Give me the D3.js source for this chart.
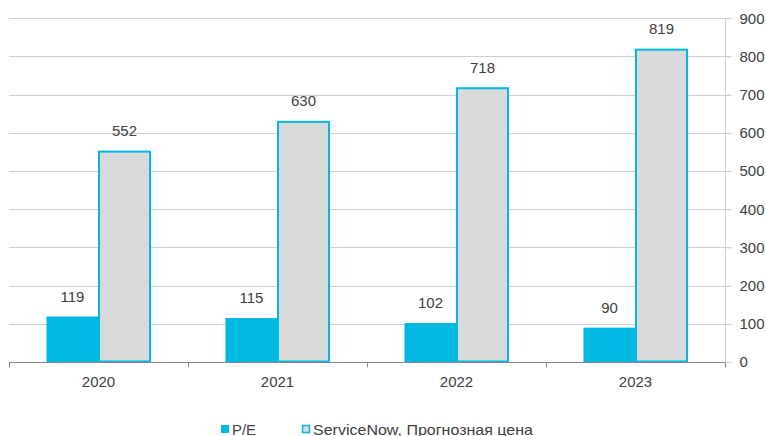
<!DOCTYPE html>
<html>
<head>
<meta charset="utf-8">
<script src="https://cdn.jsdelivr.net/npm/d3@7"></script>
<style>
  html, body { margin: 0; padding: 0; background: #fff; overflow: hidden; }
  text { font-family: "Liberation Sans", Arial, sans-serif; fill: #404040; }
</style>
</head>
<body>
<svg id="chart" width="766" height="436"></svg>
<script>
// Data
const years = ["2020", "2021", "2022", "2023"];
const peValues = [119, 115, 102, 90];
const priceValues = [552, 630, 718, 819];
const yTicks = [0, 100, 200, 300, 400, 500, 600, 700, 800, 900];
const seriesNames = ["P/E", "ServiceNow, Прогнозная цена"];

const svg = d3.select("#chart");
const plotLeft = 9, plotRight = 725, plotTop = 18.2, plotBottom = 362;
const fontStack = "'Liberation Sans', Arial, sans-serif";

const x = d3.scaleBand().domain(years).range([plotLeft, plotRight]).paddingInner(0).paddingOuter(0);
const sub = d3.scaleBand().domain([0, 1]).range([0, x.bandwidth()]).paddingInner(0).paddingOuter(0.72);
const y = d3.scaleLinear().domain([0, 900]).range([plotBottom, plotTop]);

const cyan = "#00b8e1";
const grey = "#d9d9d9";

// Horizontal gridlines
svg.append("g").selectAll("line").data(yTicks.filter(d => d > 0)).join("line")
  .attr("x1", plotLeft).attr("x2", plotRight + 6)
  .attr("y1", d => Math.round(y(d)) + 0.5).attr("y2", d => Math.round(y(d)) + 0.5)
  .attr("stroke", "#d0d0d0").attr("stroke-width", 1);

// Right value axis
const yAxis = d3.axisRight(y).tickValues(yTicks).tickSize(6).tickPadding(8);
const gy = svg.append("g").attr("transform", `translate(${plotRight + 0.5},0)`).call(yAxis);
gy.select(".domain").attr("stroke", "#d0d0d0").attr("d", `M0,${y(900)}V${y(0)}`);
gy.selectAll(".tick line").attr("stroke", "#d0d0d0");
gy.selectAll(".tick text").style("font-size", "15px").attr("fill", "#404040")
  .style("font-family", fontStack);

// P/E bars
svg.append("g").selectAll("rect").data(peValues).join("rect")
  .attr("x", (d, i) => x(years[i]) + sub(0))
  .attr("width", sub.bandwidth())
  .attr("y", d => y(d))
  .attr("height", d => y(0) - y(d))
  .attr("fill", cyan);

// Price bars (outlined)
svg.append("g").selectAll("rect").data(priceValues).join("rect")
  .attr("x", (d, i) => x(years[i]) + sub(1) + 0.5)
  .attr("width", sub.bandwidth() - 1)
  .attr("y", d => y(d) + 0.5)
  .attr("height", d => y(0) - y(d) - 1)
  .attr("fill", grey)
  .attr("stroke", cyan).attr("stroke-width", 2);

// Value labels
const labels = svg.append("g").style("font-size", "15px").attr("text-anchor", "middle");
labels.selectAll("text.pe").data(peValues).join("text").attr("class", "pe")
  .attr("x", (d, i) => x(years[i]) + sub(0) + sub.bandwidth() / 2)
  .attr("y", d => y(d) - 15)
  .text(d => d);
labels.selectAll("text.pr").data(priceValues).join("text").attr("class", "pr")
  .attr("x", (d, i) => x(years[i]) + sub(1) + sub.bandwidth() / 2)
  .attr("y", d => y(d) - 15)
  .text(d => d);

// Category axis
const xAxis = d3.axisBottom(x).tickSize(0).tickPadding(14);
const gx = svg.append("g").attr("transform", `translate(0,${plotBottom + 0.5})`).call(xAxis);
gx.select(".domain").attr("stroke", "#868686").attr("d", `M${plotLeft},0H${plotRight}`);
gx.selectAll(".tick text").style("font-size", "15px").attr("fill", "#404040")
  .style("font-family", fontStack);
// Boundary ticks between categories
gx.append("g").selectAll("line").data(years.concat(["end"])).join("line")
  .attr("x1", (d, i) => Math.round(plotLeft + i * x.bandwidth()) + 0.5)
  .attr("x2", (d, i) => Math.round(plotLeft + i * x.bandwidth()) + 0.5)
  .attr("y1", 0).attr("y2", 5)
  .attr("stroke", "#868686");

// Legend
const legend = svg.append("g").style("font-size", "15px");
const legendX = [221, 302];
const legendTextWidth = [24, 220];
seriesNames.forEach((name, i) => {
  const g = legend.append("g").attr("transform", `translate(${legendX[i]},0)`);
  if (i === 0) {
    g.append("rect").attr("x", 0).attr("y", 425).attr("width", 8).attr("height", 8).attr("fill", cyan);
  } else {
    g.append("rect").attr("x", 0.5).attr("y", 425.5).attr("width", 7).attr("height", 7)
      .attr("fill", grey).attr("stroke", cyan).attr("stroke-width", 1.5);
  }
  g.append("text").attr("x", 11).attr("y", 434.5)
    .attr("textLength", legendTextWidth[i]).attr("lengthAdjust", "spacingAndGlyphs")
    .text(name);
});
</script>
</body>
</html>
